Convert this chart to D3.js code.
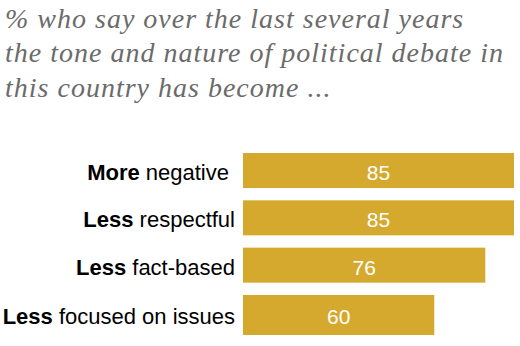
<!DOCTYPE html>
<html>
<head>
<meta charset="utf-8">
<script src="https://cdn.jsdelivr.net/npm/d3@7"></script>
<style>
  body { margin: 0; background: #fff; }
</style>
</head>
<body>
<div id="chart"></div>
<script>
const WIDTH = 520;
const HEIGHT = 346;

// datos
const boldWords = ["More", "Less", "Less", "Less"];
const restWords = ["negative", "respectful", "fact-based", "focused on issues"];
const valores = [85, 85, 76, 60];
const titulo = [
  "% who say over the last several years",
  "the tone and nature of political debate in",
  "this country has become ..."
];

const colorBarra = "#D4A92E";

const SVG = d3.select("#chart").append("svg")
  .attr("width", WIDTH).attr("height", HEIGHT);

// titulo
SVG.append("g").selectAll("text")
  .data(titulo)
  .enter()
  .append("text")
  .attr("x", 5)
  .attr("y", (d, i) => 27.5 + i * 34.7)
  .attr("font-family", "Liberation Serif")
  .attr("font-style", "italic")
  .attr("font-size", "28px")
  .attr("letter-spacing", "1px")
  .attr("fill", "#6b6b6b")
  .text(d => d);

const x = d3.scaleLinear().domain([0, 85]).range([243, 514]);
const y = d3.scaleBand().domain(d3.range(valores.length)).range([153, 330]).paddingInner(0.26);

// la ultima barra del original es un poco mas alta
const alto = i => y.bandwidth() + (i === valores.length - 1 ? 5 : 0);

const filas = SVG.append("g").selectAll("g")
  .data(valores)
  .enter()
  .append("g");

filas.append("rect")
  .attr("x", x(0))
  .attr("y", (d, i) => y(i))
  .attr("width", d => x(d) - x(0))
  .attr("height", (d, i) => alto(i))
  .attr("fill", colorBarra);

filas.append("text")
  .attr("x", d => (x(0) + x(d)) / 2)
  .attr("y", (d, i) => y(i) + alto(i) / 2)
  .attr("dy", "0.45em")
  .attr("text-anchor", "middle")
  .attr("font-family", "Liberation Sans")
  .attr("font-size", "21px")
  .attr("fill", "#fff")
  .text(d => d);

const etiquetas = filas.append("text")
  .attr("x", (d, i) => i === 0 ? 229 : 235)
  .attr("y", (d, i) => y(i) + alto(i) / 2)
  .attr("dy", "0.43em")
  .attr("text-anchor", "end")
  .attr("font-family", "Liberation Sans")
  .attr("font-size", "22px")
  .attr("fill", "#000");

etiquetas.append("tspan").attr("font-weight", "bold").text((d, i) => boldWords[i] + " ");
etiquetas.append("tspan").text((d, i) => restWords[i]);
</script>
</body>
</html>
